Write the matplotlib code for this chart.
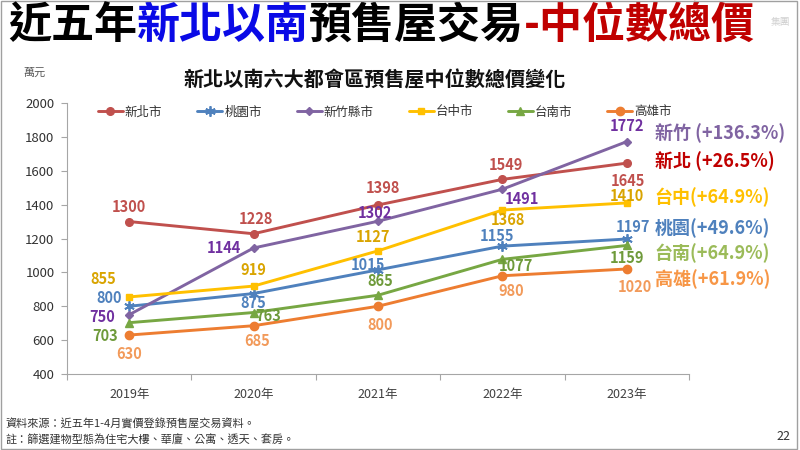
import matplotlib
matplotlib.use('Agg')
import matplotlib.pyplot as plt
from matplotlib.patches import Rectangle

plt.rcParams['font.family'] = ['Noto Sans CJK TC', 'DejaVu Sans']

# ---------------- data ----------------
years = ['2019年', '2020年', '2021年', '2022年', '2023年']
cities = ['新北市', '桃園市', '新竹縣市', '台中市', '台南市', '高雄市']
new_taipei = [1300, 1228, 1398, 1549, 1645]
taoyuan = [800, 875, 1015, 1155, 1197]
hsinchu = [750, 1144, 1302, 1491, 1772]
taichung = [855, 919, 1127, 1368, 1410]
tainan = [703, 763, 865, 1077, 1159]
kaohsiung = [630, 685, 800, 980, 1020]
growth_labels = ['新北 (+26.5%)', '桃園(+49.6%)', '新竹 (+136.3%)',
                 '台中(+64.9%)', '台南(+64.9%)', '高雄(+61.9%)']
y_ticks = [400, 600, 800, 1000, 1200, 1400, 1600, 1800, 2000]

series = [new_taipei, taoyuan, hsinchu, taichung, tainan, kaohsiung]

# ---------------- styles ----------------
line_colors = ['#C0504D', '#4F81BD', '#8064A2', '#FFC000', '#77A743', '#ED7D31']
label_colors = ['#C0504D', '#4F81BD', '#7030A0', '#D9A400', '#6E9A3A', '#F29A5A']
growth_colors = ['#C00000', '#4F81BD', '#8064A2', '#FFC000', '#9BBB59', '#F79646']
markers = ['o', (6, 2, 0), 'D', 's', '^', 'o']
msizes = [5.5, 7.5, 4.5, 5, 6, 6]
# label offsets in pixels (dx right, dy down)
label_offsets = [
    [(0, -15), (2, -15), (5, -17), (4, -14), (1, 18)],
    [(-20, -8), (0, 9), (-10, -5), (-5, -10), (6, -12)],
    [(-27, 2), (-30, 0), (-3, -8), (20, 10), (0, -16)],
    [(-26, -18), (0, -16), (-5, -14), (6, 10), (0, -7)],
    [(-24, 13), (15, 3), (2, -14), (14, 7), (0, 13)],
    [(0, 19), (4, 15), (2, 19), (9, 15), (8, 18)],
]
growth_dy = [-2, -11, -8, -6, 8, 10]
PX = 0.72  # points per pixel at dpi 100

fig = plt.figure(figsize=(8, 4.5), dpi=100)
ax = fig.add_axes([67 / 800, 1 - 374 / 450, (689 - 67) / 800, (374 - 103) / 450])

x = list(range(len(years)))
handles = []
for i, vals in enumerate(series):
    h, = ax.plot(x, vals, color=line_colors[i], lw=2.1, marker=markers[i],
                 markersize=msizes[i], markeredgewidth=1.3 if i == 1 else 1,
                 markeredgecolor=line_colors[i], label=cities[i],
                 solid_capstyle='round', zorder=3)
    handles.append(h)
    for j, v in enumerate(vals):
        dx, dy = label_offsets[i][j]
        ax.annotate(str(v), xy=(j, v), xytext=(dx * PX, -dy * PX),
                    textcoords='offset points', ha='center', va='center',
                    fontsize=10.5, fontweight='bold', color=label_colors[i],
                    zorder=5, annotation_clip=False)
    ax.annotate(growth_labels[i], xy=(x[-1], vals[-1]),
                xytext=(28 * PX, -growth_dy[i] * PX), textcoords='offset points',
                ha='left', va='center', fontsize=13, fontweight='bold',
                color=growth_colors[i], annotation_clip=False)

ax.set_xlim(-0.5, len(years) - 0.5)
ax.set_ylim(400, 2000)
ax.set_yticks(y_ticks)
ax.set_xticks(x)
ax.set_xticklabels(years)
ax.set_xticks([k - 0.5 for k in range(len(years) + 1)], minor=True)
ax.tick_params(axis='x', which='major', length=0, pad=10, labelsize=9, labelcolor='#404040')
ax.tick_params(axis='x', which='minor', length=4, width=0.8, color='#A6A6A6', direction='out')
ax.tick_params(axis='y', length=4, width=0.8, color='#A6A6A6', pad=5, labelsize=9.5,
               labelcolor='#333333')
for s in ['top', 'right']:
    ax.spines[s].set_visible(False)
for s in ['left', 'bottom']:
    ax.spines[s].set_color('#A6A6A6')
    ax.spines[s].set_linewidth(0.8)

# legend
fig.legend(handles=handles, loc='center', bbox_to_anchor=(0.481, 1 - 112 / 450),
           ncol=6, frameon=False, fontsize=9, handlelength=2.0, handletextpad=0.15,
           columnspacing=2.8, labelcolor='#333333')

# chart subtitle and unit
fig.text(375 / 800, 1 - 80 / 450, '新北以南六大都會區預售屋中位數總價變化',
         ha='center', va='center', fontsize=14.5, fontweight='bold', color='#111111')
fig.text(35 / 800, 1 - 73 / 450, '萬元', ha='center', va='center', fontsize=8,
         color='#595959')

# main slide title (multi-coloured)
TS = 31
t1 = fig.text(8 / 800, 1 - 47 / 450, '近五年', ha='left', va='bottom',
              fontsize=TS, fontweight='bold', color='black')
t2 = ax.annotate('新北以南', xy=(1, 0), xycoords=t1, ha='left', va='bottom',
                 fontsize=TS, fontweight='bold', color='#0A0AE6', annotation_clip=False)
t3 = ax.annotate('預售屋交易', xy=(1, 0), xycoords=t2, ha='left', va='bottom',
                 fontsize=TS, fontweight='bold', color='black', annotation_clip=False)
t4 = ax.annotate('-中位數總價', xy=(1, 0), xycoords=t3, ha='left', va='bottom',
                 fontsize=TS, fontweight='bold', color='#C00000', annotation_clip=False)
fig.text(780 / 800, 1 - 22 / 450, '集團', ha='center', va='center', fontsize=7,
         color='#D0D0D0')

# footnotes
fig.text(5 / 800, 1 - 424 / 450, '資料來源：近五年1-4月實價登錄預售屋交易資料。',
         ha='left', va='center', fontsize=8, color='#333333')
fig.text(5 / 800, 1 - 440 / 450, '註：篩選建物型態為住宅大樓、華廈、公寓、透天、套房。',
         ha='left', va='center', fontsize=8, color='#333333')
fig.text(783 / 800, 1 - 437 / 450, '22', ha='center', va='center', fontsize=9,
         color='#333333')

fig.patches.append(Rectangle((0.001, 0.002), 0.995, 0.996, transform=fig.transFigure,
                             fill=False, edgecolor='#A0A0A0', lw=1))

fig.savefig('out.png', dpi=100)
